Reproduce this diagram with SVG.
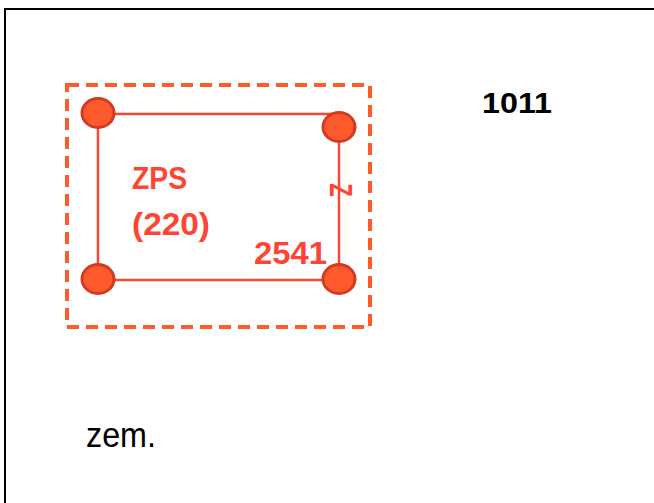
<svg xmlns="http://www.w3.org/2000/svg" width="654" height="503" viewBox="0 0 654 503">
<style>
.red{fill:#FF4433;font-family:"Liberation Sans",Arial,sans-serif;font-weight:bold}
.blk{fill:#000;font-family:"Liberation Sans",Arial,sans-serif}
.node{fill:#FF5A2C;stroke:#D23A22;stroke-width:3}
.edge{stroke:#FF4433;stroke-width:2.5;fill:none}
</style>
<rect x="5" y="9" width="660" height="510" fill="#fff" stroke="#000" stroke-width="2"/>
<rect id="area" x="67" y="85" width="303" height="242" fill="none" stroke="#FF5A2C" stroke-width="4" stroke-dasharray="12,7"/>
<g id="connectors">
<line class="edge" x1="98" y1="114" x2="339" y2="114"/>
<line class="edge" x1="98" y1="113" x2="98" y2="279"/>
<line class="edge" x1="98" y1="280" x2="339" y2="280"/>
<line class="edge" x1="339" y1="127" x2="339" y2="279"/>
</g>
<g id="n1"><ellipse class="node" cx="98" cy="113" rx="16" ry="14.5"/></g>
<g id="n2"><ellipse class="node" cx="339" cy="127" rx="16" ry="14.5"/></g>
<g id="n3"><ellipse class="node" cx="98" cy="279" rx="16" ry="14.5"/></g>
<g id="n4"><ellipse class="node" cx="339" cy="279" rx="16" ry="14.5"/></g>
<text class="red" x="132" y="189" font-size="31" textLength="55" lengthAdjust="spacingAndGlyphs">ZPS</text>
<text class="red" x="132" y="235" font-size="31" textLength="78" lengthAdjust="spacingAndGlyphs">(220)</text>
<text class="red" x="254" y="264" font-size="31" textLength="73" lengthAdjust="spacingAndGlyphs">2541</text>
<text class="red" x="0" y="0" font-size="22" font-weight="normal" transform="translate(330,190) rotate(90) scale(1,1.4)" text-anchor="middle">Z</text>
<text class="blk" x="482" y="113" font-size="30" font-weight="bold" textLength="70" lengthAdjust="spacingAndGlyphs">1011</text>
<text class="blk" x="86" y="447" font-size="35" textLength="70" lengthAdjust="spacingAndGlyphs">zem.</text>
</svg>
